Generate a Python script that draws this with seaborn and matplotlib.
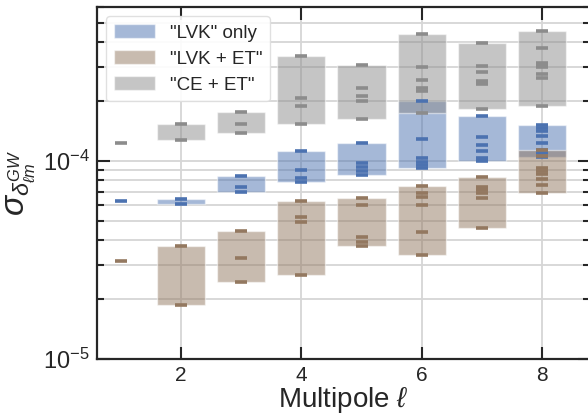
import numpy as np
import matplotlib
matplotlib.use("Agg")
import matplotlib.pyplot as plt
import seaborn as sns

# --- Style ---
sns.set_theme(style="ticks")
plt.rcParams["font.family"] = ["Liberation Sans", "DejaVu Sans"]
plt.rcParams["mathtext.fontset"] = "custom"
plt.rcParams["mathtext.rm"] = "Liberation Sans"
plt.rcParams["mathtext.it"] = "Liberation Sans:italic"
plt.rcParams["mathtext.bf"] = "Liberation Sans:bold"

# --- Data: sigma per multipole ell, one value per m ---
ells = [1, 2, 3, 4, 5, 6, 7, 8]

lvk_only = [
    [6.30e-5],
    [6.40e-5, 6.07e-5],
    [8.43e-5, 7.39e-5, 6.95e-5],
    [1.127e-4, 9.0e-5, 8.24e-5, 7.80e-5],
    [1.237e-4, 9.77e-5, 9.33e-5, 8.90e-5, 8.50e-5],
    [2.002e-4, 1.291e-4, 1.036e-4, 9.88e-5, 9.545e-5, 9.22e-5],
    [1.682e-4, 1.327e-4, 1.209e-4, 1.119e-4, 1.041e-4, 1.018e-4, 1.0e-4],
    [1.52e-4, 1.468e-4, 1.417e-4, 1.342e-4, 1.228e-4, 1.137e-4, 1.098e-4, 1.047e-4],
]

lvk_et = [
    [3.13e-5],
    [3.72e-5, 1.87e-5],
    [4.41e-5, 3.25e-5, 2.44e-5],
    [6.28e-5, 5.23e-5, 4.90e-5, 2.67e-5],
    [6.48e-5, 5.975e-5, 4.13e-5, 3.90e-5, 3.74e-5],
    [7.50e-5, 6.915e-5, 6.58e-5, 5.975e-5, 4.36e-5, 3.34e-5],
    [8.33e-5, 7.43e-5, 7.26e-5, 7.10e-5, 6.93e-5, 6.48e-5, 4.57e-5],
    [1.143e-4, 1.066e-4, 9.27e-5, 8.95e-5, 8.65e-5, 8.11e-5, 7.61e-5, 6.87e-5],
]

ce_et = [
    [1.237e-4],
    [1.53e-4, 1.27e-4],
    [1.77e-4, 1.53e-4, 1.38e-4],
    [3.39e-4, 2.07e-4, 1.89e-4, 1.53e-4],
    [3.05e-4, 2.34e-4, 2.13e-4, 2.00e-4, 1.64e-4],
    [4.36e-4, 2.97e-4, 2.566e-4, 2.337e-4, 2.257e-4, 1.747e-4],
    [3.93e-4, 3.02e-4, 2.82e-4, 2.55e-4, 2.506e-4, 2.463e-4, 1.824e-4],
    [4.535e-4, 3.72e-4, 3.145e-4, 3.054e-4, 2.984e-4, 2.75e-4, 2.64e-4, 1.89e-4],
]

labels = ['"LVK" only', '"LVK + ET"', '"CE + ET"']

deep = sns.color_palette("deep")
colors = [deep[0], deep[5], deep[7]]

fig = plt.figure(figsize=(5.88, 4.15), dpi=100)
ax = fig.add_axes([97 / 588, 1 - 359 / 415, 493 / 588, 352 / 415])

for series, label, color in zip([lvk_only, lvk_et, ce_et], labels, colors):
    lows = [min(v) for v in series]
    highs = [max(v) for v in series]
    heights = [h - l for l, h in zip(lows, highs)]
    ax.bar(ells, heights, bottom=lows, width=0.8, color=color, alpha=0.5,
           edgecolor="white", linewidth=1.0, label=label, zorder=2)
    xs = [ell for ell, v in zip(ells, series) for _ in v]
    ys = [y for v in series for y in v]
    ax.plot(xs, ys, ls="none", marker="_", ms=8.5, mew=2.6, color=color, zorder=3)

ax.set_yscale("log")
ax.set_xlim(0.6, 8.8)
ax.set_ylim(1e-5, 6e-4)
ax.set_xticks([2, 4, 6, 8])

ax.grid(True, axis="x", which="major", color="#d6d6d6", lw=1.3, zorder=0)
ax.grid(True, axis="y", which="both", color="#d6d6d6", lw=1.3, zorder=0)
ax.set_axisbelow(True)

ax.tick_params(which="both", direction="in", top=True, right=True,
               color="#262626", width=1.5)
ax.tick_params(which="major", length=9, labelsize=15, pad=5)
ax.tick_params(axis="y", which="major", labelsize=17)
ax.tick_params(which="minor", length=5)
for sp in ax.spines.values():
    sp.set_color("#262626")
    sp.set_linewidth(1.6)

ax.set_xlabel(r"Multipole $\ell$", fontsize=20, labelpad=0)
ax.set_ylabel(r"$\sigma_{\delta_{\ell m}^{GW}}$", fontsize=24, labelpad=4)

leg = ax.legend(loc="upper left", fontsize=13.5, frameon=True,
                handlelength=2.2, handleheight=0.8, borderaxespad=0.5,
                labelspacing=0.45)
leg.get_frame().set_edgecolor("#dddddd")
leg.get_frame().set_alpha(0.9)

fig.savefig("out.png", dpi=100)
plt.close(fig)
